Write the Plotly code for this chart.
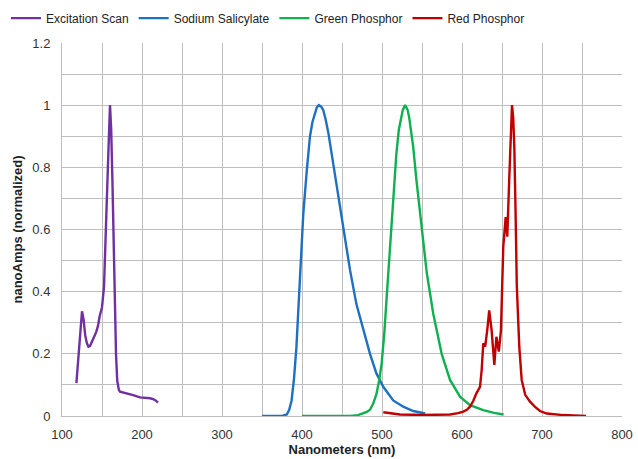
import plotly.graph_objects as go

exc_x = [118, 121, 125, 127, 129, 131, 133, 135, 137, 139, 141, 143, 145, 147, 150, 152.5, 154, 156, 158, 160, 161.5, 163, 164.5, 166, 167.5, 169, 171, 172.5, 181, 189, 197.5, 205, 210, 214, 217, 220]
exc_y = [0.106, 0.22, 0.337, 0.31, 0.26, 0.235, 0.223, 0.225, 0.235, 0.25, 0.26, 0.272, 0.29, 0.32, 0.35, 0.415, 0.52, 0.65, 0.85, 1.0, 0.92, 0.76, 0.55, 0.33, 0.2, 0.115, 0.085, 0.078, 0.073, 0.067, 0.06, 0.059, 0.057, 0.054, 0.05, 0.043]

sal_x = [350, 375, 381, 384, 387, 390, 393, 397.5, 401.6, 406, 410, 413, 416, 418.5, 421, 424, 426.6, 429.5, 433, 439, 445, 451.6, 460, 468, 476.6, 485, 493, 501.6, 514, 526.6, 539, 554]
sal_y = [0.0, 0.0, 0.005, 0.02, 0.05, 0.12, 0.22, 0.44, 0.65, 0.79, 0.9, 0.945, 0.973, 0.993, 1.0, 0.995, 0.984, 0.955, 0.91, 0.81, 0.705, 0.6, 0.47, 0.36, 0.276, 0.2, 0.137, 0.094, 0.05, 0.03, 0.016, 0.008]

grn_x = [400, 460, 470, 476.6, 481, 485, 489, 493, 496.5, 499.6, 503, 505.8, 510, 514, 518, 521, 523, 526, 529, 532, 534, 539, 543, 549.6, 556, 564, 574.6, 585, 597.5, 610, 626.6, 640, 652]
grn_y = [0.0, 0.0, 0.003, 0.008, 0.013, 0.02, 0.04, 0.07, 0.115, 0.17, 0.27, 0.38, 0.545, 0.705, 0.845, 0.92, 0.95, 0.985, 1.0, 0.985, 0.96, 0.866, 0.76, 0.6, 0.46, 0.33, 0.2, 0.116, 0.062, 0.035, 0.019, 0.01, 0.005]

red_x = [501.6, 522.5, 551.6, 585, 595, 601.6, 606, 610, 614, 618, 622.5, 624.6, 626.6, 629, 632, 634, 637, 640.4, 643, 646, 648.7, 650, 651.6, 654.6, 656.6, 659, 660.8, 662.5, 664, 665.4, 667, 668.5, 671.6, 674.6, 679, 685, 691, 697.5, 706, 716, 726.6, 740, 755]
red_y = [0.012, 0.005, 0.003, 0.005, 0.009, 0.014, 0.02, 0.03, 0.048, 0.073, 0.094, 0.148, 0.234, 0.223, 0.287, 0.34, 0.276, 0.164, 0.255, 0.207, 0.276, 0.4, 0.545, 0.64, 0.577, 0.76, 0.9, 1.0, 0.96, 0.866, 0.65, 0.42, 0.223, 0.116, 0.068, 0.046, 0.03, 0.016, 0.008, 0.005, 0.003, 0.002, 0.0]

series = [
    ("Excitation Scan", exc_x, exc_y, "#7030A0"),
    ("Sodium Salicylate", sal_x, sal_y, "#1F70C0"),
    ("Green Phosphor", grn_x, grn_y, "#10B050"),
    ("Red Phosphor", red_x, red_y, "#C00000"),
]

fig = go.Figure()
for name, xs, ys, col in series:
    fig.add_trace(go.Scatter(x=xs, y=ys, name=name, mode="lines",
                             line=dict(color=col, width=2.4)))

grid = "#BEBEBE"
txt = "#333333"
fig.update_layout(
    width=638, height=459,
    margin=dict(l=62, r=16, t=43, b=43, autoexpand=False),
    paper_bgcolor="white", plot_bgcolor="white",
    font=dict(family="Liberation Sans, Arial, sans-serif", size=13, color=txt),
    legend=dict(orientation="h", x=0.42, xanchor="center", y=0.992, yanchor="top",
                yref="container", xref="container",
                font=dict(size=12, color="#222222"), itemwidth=30, tracegroupgap=0),
    xaxis=dict(range=[100, 800], dtick=100, tick0=100, showgrid=True, gridcolor=grid,
               gridwidth=1, minor=dict(dtick=50, showgrid=True, gridcolor=grid, gridwidth=1),
               showline=True, linecolor=grid, zeroline=False, ticks="",
               ticklabelstandoff=6, automargin=False,
               title=dict(text="<b>Nanometers (nm)</b>", font=dict(size=13, color="#222222"), standoff=2)),
    yaxis=dict(range=[0, 1.2], dtick=0.2, showgrid=True, gridcolor=grid, gridwidth=1,
               minor=dict(dtick=0.1, showgrid=True, gridcolor=grid, gridwidth=1),
               showline=True, linecolor=grid, zeroline=False, ticks="",
               ticklabelstandoff=8, automargin=False,
               title=dict(text="<b>nanoAmps (normalized)</b>", font=dict(size=13, color="#222222"), standoff=6)),
)

fig.write_html("out.html", config={"displayModeBar": False},
               post_script="document.body.style.margin='0px';")
